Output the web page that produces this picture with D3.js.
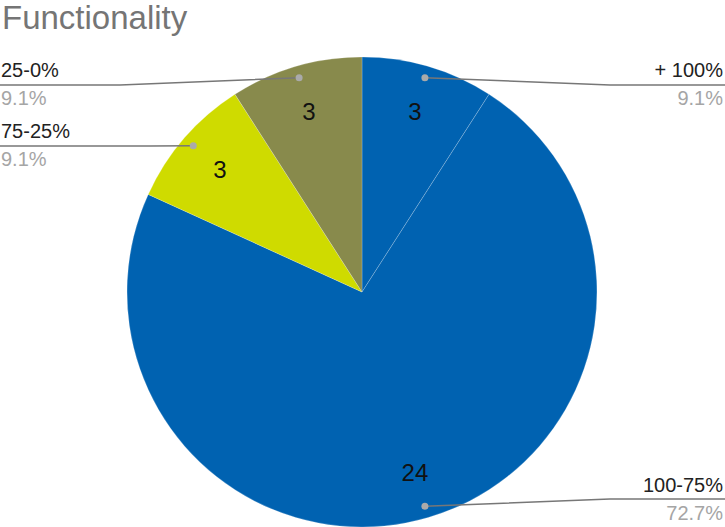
<!DOCTYPE html>
<html>
<head>
<meta charset="utf-8">
<script src="https://cdn.jsdelivr.net/npm/d3@7"></script>
<style>
  body { margin: 0; background: #fff; }
  svg { font-family: "Liberation Sans", Arial, sans-serif; }
</style>
</head>
<body>
<svg></svg>
<script>
const categories = ["+ 100%", "100-75%", "75-25%", "25-0%"];
const values = [3, 24, 3, 3];
const percents = ["9.1%", "72.7%", "9.1%", "9.1%"];
const colors = ["#0062b1", "#0062b1", "#cfdb00", "#888a4c"];

const width = 725;
const height = 527;
const cx = 362;
const cy = 292;
const radius = 235;

const svg = d3.select("svg").attr("width", width).attr("height", height);

svg
  .append("text")
  .attr("x", 2)
  .attr("y", 29)
  .attr("font-size", 33)
  .attr("fill", "#757575")
  .text("Functionality");

const data = categories.map((c, i) => ({ cat: c, value: values[i], pct: percents[i], color: colors[i] }));

const pie = d3.pie().sort(null).value((d) => d.value);
const arcs = pie(data);

const arc = d3.arc().innerRadius(0).outerRadius(radius);
const labelArc = d3.arc().innerRadius(radius * 0.8).outerRadius(radius * 0.8);
const dotArc = d3.arc().innerRadius(radius * 0.95).outerRadius(radius * 0.95);

const g = svg.append("g").attr("transform", `translate(${cx},${cy})`);

g.selectAll("path.slice")
  .data(arcs)
  .enter()
  .append("path")
  .attr("class", "slice")
  .attr("d", arc)
  .attr("fill", (d) => d.data.color)
  .attr("stroke", "rgba(255,255,255,0.3)")
  .attr("stroke-width", 0.7);

g.selectAll("text.val")
  .data(arcs)
  .enter()
  .append("text")
  .attr("class", "val")
  .attr("transform", (d) => `translate(${labelArc.centroid(d)})`)
  .attr("text-anchor", "middle")
  .attr("dy", "0.36em")
  .attr("font-size", 24)
  .attr("fill", "#111")
  .text((d) => d.value);

// leader lines: elbow y and side for each slice
const leaders = [
  { y: 85, elbowX: 610, side: "right", labelY: 77 },
  { y: 499, elbowX: 610, side: "right", labelY: 492 },
  { y: 146, elbowX: 150, side: "left", labelY: 138 },
  { y: 85, elbowX: 120, side: "left", labelY: 77 },
];

arcs.forEach((d, i) => {
  const L = leaders[i];
  const [dx, dy] = dotArc.centroid(d);
  const px = cx + dx;
  const py = cy + dy;
  const endX = L.side === "right" ? width : 0;
  svg
    .append("path")
    .attr("d", `M${px},${py}L${L.elbowX},${L.y}L${endX},${L.y}`)
    .attr("fill", "none")
    .attr("stroke", "#777")
    .attr("stroke-width", 1.5);
  svg
    .append("circle")
    .attr("cx", px)
    .attr("cy", py)
    .attr("r", 3.5)
    .attr("fill", "#aaa");
  const tx = L.side === "right" ? width - 2 : 1;
  const anchor = L.side === "right" ? "end" : "start";
  svg
    .append("text")
    .attr("x", tx)
    .attr("y", L.labelY)
    .attr("text-anchor", anchor)
    .attr("font-size", 20)
    .attr("fill", "#222")
    .text(d.data.cat);
  svg
    .append("text")
    .attr("x", tx)
    .attr("y", L.labelY + 28)
    .attr("text-anchor", anchor)
    .attr("font-size", 20)
    .attr("fill", "#a5a5a5")
    .text(d.data.pct);
});
</script>
</body>
</html>
